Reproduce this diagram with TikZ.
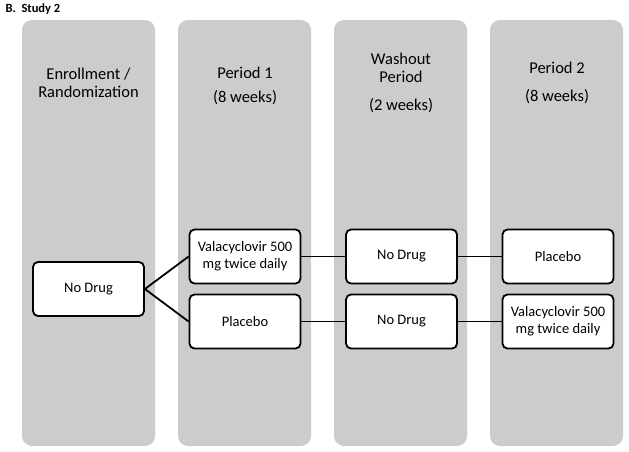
\documentclass[tikz,border=0pt]{standalone}
\usepackage{fontspec}
\setmainfont{Carlito}
\definecolor{colgray}{HTML}{CCCCCC}
\begin{document}
\begin{tikzpicture}[x=1pt, y=-1pt,
    column/.style={fill=colgray, rounded corners=10pt},
    head/.style={align=center, font=\fontsize{16.5}{19}\selectfont},
    arm/.style={draw, line width=1.8pt, rounded corners=5pt, fill=white,
        minimum width=111pt, minimum height=54pt, inner sep=1pt, align=center,
        font=\fontsize{14.5}{17}\selectfont},
    link/.style={line width=1.8pt}]
    % 1. Vung hien thi
    \useasboundingbox (0,0) rectangle (629,451);

    % 2. Tieu de
    \node[anchor=west, font=\bfseries\fontsize{12.5}{14}\selectfont] (title) at (2,9) {B.\ \ Study 2};

    % 3. Cac cot nen xam
    \foreach \x in {22,178,334,490}
        \fill[column] (\x,20) rectangle ++(133,426);

    % 4. Tieu de cot
    \node[head] (enroll) at (88.5,83) {Enrollment /\\[-1pt]Randomization};
    \node[head] (per1) at (245,86) {Period 1\\[5pt](8 weeks)};
    \node[head] (wash) at (401,83) {Washout\\[-1pt]Period\\[9pt](2 weeks)};
    \node[head] (per2) at (557,83) {Period 2\\[9pt](8 weeks)};

    % 5. Cac hop
    \node[arm] (start) at (88.5,289) {No Drug};
    \node[arm] (vala1) at (245,256.5) {Valacyclovir 500\\mg twice daily};
    \node[arm] (plac1) at (245,321.5) {Placebo};
    \node[arm] (wash1) at (401.5,256.5) {No Drug};
    \node[arm] (wash2) at (401.5,321.5) {No Drug};
    \node[arm] (plac2) at (558,256.5) {Placebo};
    \node[arm] (vala2) at (558,321.5) {Valacyclovir 500\\mg twice daily};

    % 6. Duong noi
    \draw[link] (start.east) -- (vala1.west);
    \draw[link] (start.east) -- (plac1.west);
    \draw[link] (vala1) -- (wash1);
    \draw[link] (wash1) -- (plac2);
    \draw[link] (plac1) -- (wash2);
    \draw[link] (wash2) -- (vala2);

\end{tikzpicture}
\end{document}
